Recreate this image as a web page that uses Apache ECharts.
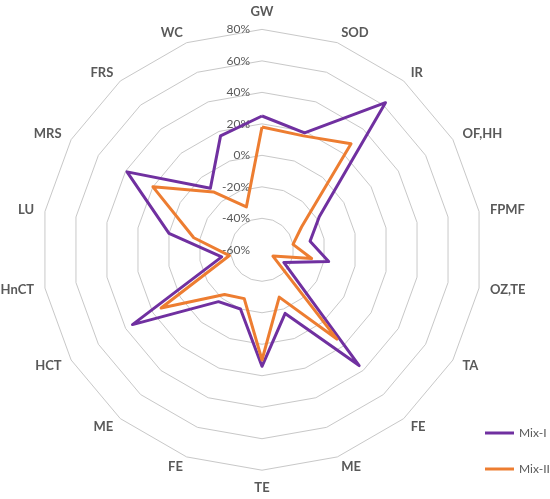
<!DOCTYPE html>
<html>
<head>
<meta charset="utf-8">
<script src="https://cdn.jsdelivr.net/npm/echarts@6/dist/echarts.min.js"></script>
<style>
  html, body { margin: 0; background: #ffffff; }
  #chart { width: 550px; height: 499px; }
</style>
</head>
<body>
<div id="chart"></div>
<script>
// categories, in the reference's clockwise order starting at the top
const AXES = ["GW", "SOD", "IR", "OF,HH", "FPMF", "OZ,TE", "TA", "FE", "ME", "TE", "FE", "ME", "HCT", "HnCT", "LU", "MRS", "FRS", "WC"];
const MIX_I = [25, 19, 62, -18, -29, -17, -44, 36, -17, 14, -20, -17, 35, -34, 0, 39, -9, 17];
const MIX_II = [18, 17, 28, -31, -40, -28, -52, 14, -28, 10, -27, -23, 14, -39, -16, 20, -12, -31];
const SERIES_NAMES = ["Mix-I", "Mix-II"];
const RING_MIN = -60;
const RING_MAX = 80;
const RING_STEP = 20;

const COLORS = { mix1: "#7030A0", mix2: "#ED7D31", ring: "#C8C8C8", text: "#595959" };
const FONT = "Lato, 'Open Sans', sans-serif";

const CX = 262;
const CY = 249.8;
const R = 220.4;

// echarts lays radar indicators out counter-clockwise; the reference goes clockwise
const order = AXES.map((_, i) => (AXES.length - i) % AXES.length);
const pick = (arr) => order.map((i) => arr[i]);

const chart = echarts.init(document.getElementById("chart"), null, { renderer: "canvas" });

chart.setOption({
  backgroundColor: "#ffffff",
  animation: false,
  color: [COLORS.mix1, COLORS.mix2],
  legend: {
    data: SERIES_NAMES,
    orient: "vertical",
    left: 480,
    top: 422,
    itemWidth: 29,
    itemHeight: 3,
    itemGap: 24,
    icon: "rect",
    textStyle: { color: COLORS.text, fontSize: 12, fontFamily: FONT },
  },
  // axis labels along the GW spoke, drawn by a value axis aligned with it
  grid: { left: CX, width: 1, top: CY - R, height: R },
  xAxis: { type: "value", show: false },
  yAxis: {
    type: "value",
    min: RING_MIN,
    max: RING_MAX,
    interval: RING_STEP,
    axisLine: { show: false },
    axisTick: { show: false },
    splitLine: { show: false },
    axisLabel: {
      margin: 12,
      color: COLORS.text,
      fontSize: 12,
      fontFamily: FONT,
      formatter: (v) => `${v}%`,
    },
  },
  radar: {
    center: [CX, CY],
    radius: R,
    startAngle: 90,
    shape: "polygon",
    splitNumber: (RING_MAX - RING_MIN) / RING_STEP,
    nameGap: 11,
    indicator: pick(AXES).map((name) => ({ name, min: RING_MIN, max: RING_MAX })),
    axisName: { color: COLORS.text, fontSize: 13, fontWeight: "bold", fontFamily: FONT },
    axisLine: { show: false },
    axisTick: { show: false },
    axisLabel: { show: false },
    splitArea: { show: false },
    splitLine: { lineStyle: { color: COLORS.ring, width: 1 } },
  },
  series: [
    {
      type: "radar",
      symbol: "none",
      data: [
        { name: SERIES_NAMES[0], value: pick(MIX_I), lineStyle: { width: 3, color: COLORS.mix1 } },
        { name: SERIES_NAMES[1], value: pick(MIX_II), lineStyle: { width: 3, color: COLORS.mix2 } },
      ],
    },
  ],
});
</script>
</body>
</html>
